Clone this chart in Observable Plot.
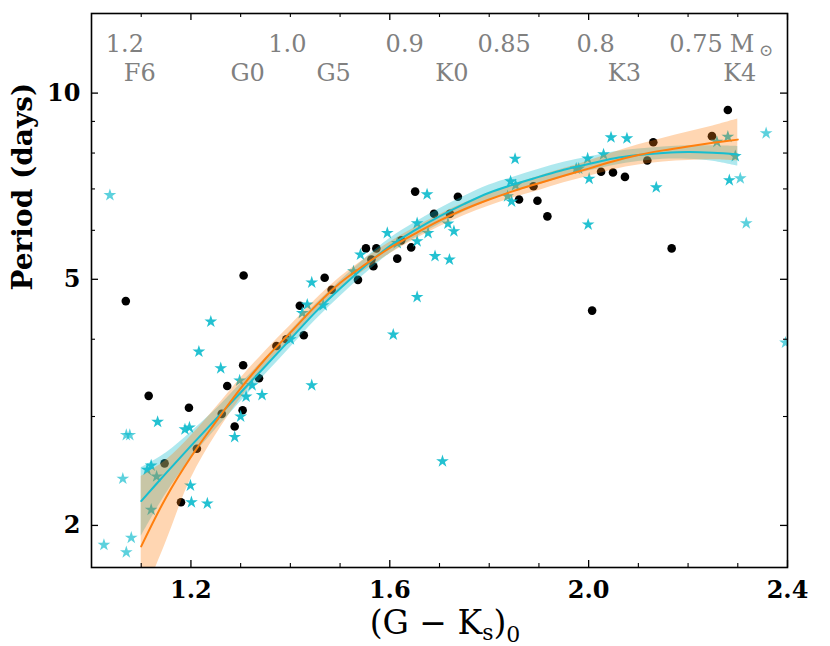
<!DOCTYPE html>
<html><head><meta charset="utf-8">
<script src="https://cdn.jsdelivr.net/npm/d3@7"></script>
<script src="https://cdn.jsdelivr.net/npm/@observablehq/plot@0.6"></script>
<style>body{margin:0;background:#fff}</style>
</head><body><div id="chart"></div>
<script>
// Black circles (sample 1)
const dotX = [1.069,1.115,1.147,1.180,1.196,1.212,1.262,1.273,1.288,1.304,1.305,1.306,1.337,1.372,1.392,1.419,1.427,1.469,1.483,1.536,1.552,1.563,1.567,1.573,1.615,1.623,1.643,1.651,1.689,1.721,1.737,1.860,1.889,1.897,1.917,2.007,2.025,2.049,2.073,2.118,2.130,2.167,2.248,2.280];
const dotY = [4.61,3.24,2.52,2.18,3.10,2.66,3.03,3.36,2.89,3.07,3.63,5.07,3.46,3.90,4.00,4.53,4.06,5.03,4.81,4.99,5.61,5.38,5.25,5.61,5.40,5.78,5.63,6.93,6.38,6.38,6.80,6.73,7.07,6.70,6.32,4.45,7.46,7.44,7.32,7.78,8.33,5.61,8.52,9.39];
// Cyan stars (sample 2)
const starX = [1.025,1.037,1.063,1.070,1.070,1.077,1.080,1.112,1.120,1.120,1.131,1.133,1.188,1.197,1.199,1.201,1.216,1.233,1.240,1.260,1.288,1.298,1.300,1.311,1.323,1.343,1.400,1.424,1.434,1.443,1.443,1.466,1.527,1.541,1.595,1.607,1.615,1.655,1.655,1.655,1.675,1.677,1.691,1.706,1.717,1.720,1.729,1.837,1.843,1.845,1.852,1.853,1.975,1.980,1.998,1.999,2.001,2.030,2.045,2.077,2.136,2.258,2.280,2.283,2.295,2.305,2.317,2.357,2.396];
const starY = [1.86,6.84,2.38,2.80,1.81,2.80,1.91,2.46,2.50,2.12,2.40,2.94,2.86,2.88,2.32,2.18,3.82,2.17,4.27,3.59,2.78,3.43,3.00,3.23,3.37,3.25,4.00,4.41,4.55,4.94,3.37,4.54,5.15,5.48,5.94,4.07,5.72,6.16,5.76,4.68,6.86,5.94,5.45,2.54,6.15,5.38,5.98,6.81,7.20,6.68,7.83,7.10,7.55,7.55,7.84,6.13,7.27,7.96,8.48,8.45,7.04,8.34,8.50,7.23,7.91,7.28,6.16,8.61,3.95];
// Fitted relations and confidence bands
const fitX = [1.10,1.15,1.20,1.25,1.30,1.35,1.40,1.45,1.50,1.55,1.60,1.65,1.70,1.75,1.80,1.85,1.90,1.95,2.00,2.05,2.10,2.15,2.20,2.25,2.30];
const orangeFit = [1.85,2.22,2.58,2.94,3.33,3.72,4.10,4.52,4.93,5.28,5.62,5.92,6.22,6.49,6.73,6.95,7.15,7.35,7.55,7.76,7.94,8.08,8.20,8.31,8.41];
const orangeLo = [1.50,1.88,2.38,2.80,3.21,3.62,4.00,4.42,4.83,5.17,5.50,5.80,6.08,6.34,6.57,6.78,6.96,7.16,7.34,7.52,7.65,7.74,7.78,7.80,7.76];
const orangeHi = [2.40,2.55,2.79,3.10,3.46,3.83,4.21,4.63,5.04,5.40,5.74,6.06,6.36,6.64,6.89,7.12,7.34,7.55,7.77,8.02,8.25,8.45,8.65,8.85,9.08];
const tealFit = [2.19,2.43,2.69,2.97,3.28,3.62,4.00,4.42,4.83,5.25,5.66,6.00,6.32,6.62,6.90,7.12,7.32,7.52,7.68,7.84,7.94,8.00,8.03,8.01,7.96];
const tealLo = [1.92,2.25,2.56,2.86,3.17,3.51,3.88,4.29,4.69,5.10,5.50,5.83,6.14,6.43,6.70,6.92,7.11,7.31,7.48,7.64,7.75,7.82,7.82,7.76,7.62];
const tealHi = [2.48,2.62,2.83,3.08,3.39,3.73,4.12,4.55,4.97,5.40,5.82,6.17,6.50,6.81,7.10,7.32,7.53,7.73,7.88,8.03,8.12,8.18,8.22,8.22,8.20];
// Ticks
const xTicks = [1.2,1.6,2.0,2.4];
const xMinorTicks = [1.1,1.3,1.4,1.5,1.7,1.8,1.9,2.1,2.2,2.3];
const yTicks = [2,5,10];
const yMinorTicks = [3,4,6,7,8,9];
// Top annotations
const massX = [1.067,1.394,1.630,1.830,2.014,2.216];
const massLabels = ["1.2","1.0","0.9","0.85","0.8","0.75"];
const sptX = [1.097,1.314,1.487,1.725,2.072,2.304];
const sptLabels = ["F6","G0","G5","K0","K3","K4"];

const dots = dotX.map((x, i) => ({x, y: dotY[i]}));
const stars = starX.map((x, i) => ({x, y: starY[i]}));
const fit = fitX.map((x, i) => ({x, o: orangeFit[i], oLo: orangeLo[i], oHi: orangeHi[i], t: tealFit[i], tLo: tealLo[i], tHi: tealHi[i]}));
const mass = massX.map((x, i) => ({x, label: massLabels[i]}));
const spt = sptX.map((x, i) => ({x, label: sptLabels[i]}));

const W = 830, H = 646, mt = 13, mb = 79, ml = 91, mr = 43;
const frameH = H - mt - mb, frameW = W - ml - mr;
const orange = "#ff7f0e", teal = "#17becf", gray = "#808080";
const majorLen = 7, minorLen = 4;

const chart = Plot.plot({
  width: W, height: H,
  marginTop: mt, marginBottom: mb, marginLeft: ml, marginRight: mr,
  x: {domain: [1.0, 2.4], axis: null},
  y: {type: "log", domain: [1.71, 13.45], axis: null},
  opacity: {type: "identity"},
  style: {fontFamily: "DejaVu Serif", background: "white"},
  marks: [
    Plot.dot(dots, {x: "x", y: "y", r: 4.3, fill: "black", clip: true}),
    Plot.dot(stars, {x: "x", y: "y", symbol: "star", r: 4.0, fill: teal, fillOpacity: d => (d.x < 1.1 || d.x > 2.3) ? 0.7 : 0.95, clip: true}),
    Plot.areaY(fit, {x: "x", y1: "tLo", y2: "tHi", fill: teal, fillOpacity: 0.35, curve: "catmull-rom", clip: true}),
    Plot.areaY(fit, {x: "x", y1: "oLo", y2: "oHi", fill: orange, fillOpacity: 0.32, curve: "catmull-rom", clip: true}),
    Plot.line(fit, {x: "x", y: "t", stroke: teal, strokeWidth: 2, curve: "catmull-rom", clip: true}),
    Plot.line(fit, {x: "x", y: "o", stroke: orange, strokeWidth: 2, curve: "catmull-rom", clip: true}),
    // inward ticks on all four sides
    Plot.tickX(xTicks, {x: d => d, insetTop: frameH - majorLen, stroke: "black", strokeWidth: 1.3}),
    Plot.tickX(xMinorTicks, {x: d => d, insetTop: frameH - minorLen, stroke: "black", strokeWidth: 1.1}),
    Plot.tickX(xTicks, {x: d => d, insetBottom: frameH - majorLen, stroke: "black", strokeWidth: 1.3}),
    Plot.tickX(xMinorTicks, {x: d => d, insetBottom: frameH - minorLen, stroke: "black", strokeWidth: 1.1}),
    Plot.tickY(yTicks, {y: d => d, insetRight: frameW - majorLen, stroke: "black", strokeWidth: 1.3}),
    Plot.tickY(yMinorTicks, {y: d => d, insetRight: frameW - minorLen, stroke: "black", strokeWidth: 1.1}),
    Plot.tickY(yTicks, {y: d => d, insetLeft: frameW - majorLen, stroke: "black", strokeWidth: 1.3}),
    Plot.tickY(yMinorTicks, {y: d => d, insetLeft: frameW - minorLen, stroke: "black", strokeWidth: 1.1}),
    Plot.frame({stroke: "black", strokeWidth: 1.6}),
    // tick labels
    Plot.text(xTicks, {x: d => d, text: d => d.toFixed(1), frameAnchor: "bottom", dy: 30, lineAnchor: "bottom", fontSize: 24, fontWeight: "bold", fill: "black"}),
    Plot.text(yTicks, {y: d => d, text: d => String(d), frameAnchor: "left", dx: -11, textAnchor: "end", lineAnchor: "middle", fontSize: 24, fontWeight: "bold", fill: "black"}),
    // y label
    Plot.text(["Period (days)"], {text: d => d, frameAnchor: "left", dx: -68, rotate: -90, lineAnchor: "middle", fontSize: 28, fontWeight: "bold", fill: "black"}),
    // top annotations
    Plot.text(mass, {x: "x", text: "label", frameAnchor: "top", dy: 38, lineAnchor: "bottom", fontSize: 24, fill: gray}),
    Plot.text(["M"], {x: () => massX[massX.length - 1], text: d => d, frameAnchor: "top", dx: 46, dy: 38, lineAnchor: "bottom", fontSize: 24, fill: gray}),
    Plot.text(["\u2299"], {x: () => massX[massX.length - 1], text: d => d, frameAnchor: "top", dx: 70, dy: 42, lineAnchor: "bottom", fontSize: 17, fill: gray}),
    Plot.text(spt, {x: "x", text: "label", frameAnchor: "top", dy: 67, lineAnchor: "bottom", fontSize: 24, fill: gray})
  ]
});
document.getElementById("chart").appendChild(chart);

// x-axis label with subscripts
const xl = d3.select(chart).append("text")
  .attr("x", ml + frameW / 2 + 6).attr("y", H - 12)
  .attr("text-anchor", "middle").attr("font-family", "DejaVu Serif")
  .attr("font-size", 33).attr("fill", "black");
xl.append("tspan").text("(G \u2212 K");
xl.append("tspan").attr("font-size", 22).attr("dy", 6).text("s");
xl.append("tspan").attr("dy", -6).text(")");
xl.append("tspan").attr("font-size", 22).attr("dy", 8).text("0");
</script>
</body></html>
